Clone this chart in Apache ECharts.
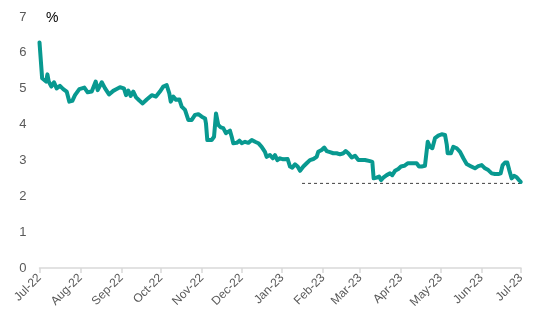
<!DOCTYPE html>
<html>
<head>
<meta charset="utf-8">
<script src="https://cdn.jsdelivr.net/npm/echarts@6/dist/echarts.min.js"></script>
<style>html,body{margin:0;padding:0;background:#fff}#c{width:550px;height:330px}</style>
</head>
<body>
<div id="c"></div>
<script>
// Days since 1 Jul 2022
const dayOffset = [0,2,3,5,6,7,9,11,13,15.5,18,20.6,22.6,24.9,26.9,30.2,34,36.5,39.6,42.6,44.1,47.2,49.7,52.7,55.9,58.5,61,64,65.6,67.3,69.1,71.1,73.2,75.7,78.2,81.3,85.1,88.3,91.3,93.8,96.4,98.4,99.5,101.4,103.5,106,107.8,110.3,112.8,115.4,117.9,120.4,123,125.5,126.2,127.2,130.5,132.3,133.8,135.5,137.4,139.3,141.4,144.4,145.7,146.9,149.5,151.5,153.3,155.8,158.3,160.9,163.4,165.9,168.4,170.9,172.2,174.7,176.8,178.5,180.3,182.3,184.8,186.1,188.1,189.9,191.6,193.7,195.7,197.5,200,202.5,205,207.6,210.1,211.3,213.9,215.9,217.7,220.2,222.7,225.3,227.8,230.3,232.1,234.1,236.7,239.2,241.7,244.2,246.7,250.5,252.3,253.3,255.6,257.4,258.9,260.6,263.2,265.7,267.4,269.5,272,274,276.5,279.1,282.1,285.9,287.7,289.7,292.2,294.3,296,297.8,299.8,302.3,304.9,307.4,308.7,309.4,311.9,313.7,316.3,318.8,321.3,323.8,326.9,330.1,332.6,335.2,337.7,340.2,342.8,345.3,347.8,349.6,351.1,352.9,354.6,356.1,357.9,359.7,361.7,363.5,364.8];
const rateValues = [6.29,5.29,5.24,5.20,5.40,5.20,5.06,5.18,5.01,5.08,4.99,4.92,4.64,4.66,4.82,4.99,5.03,4.90,4.92,5.20,4.96,5.18,5.01,4.84,4.94,4.99,5.04,5.01,4.82,4.95,4.80,4.92,4.76,4.67,4.59,4.70,4.82,4.78,4.92,5.06,5.10,4.87,4.64,4.78,4.69,4.70,4.50,4.41,4.13,4.13,4.27,4.29,4.22,4.17,4.03,3.57,3.57,3.66,4.31,3.99,3.92,3.90,3.76,3.83,3.66,3.48,3.49,3.55,3.48,3.52,3.49,3.57,3.52,3.48,3.38,3.24,3.10,3.15,3.06,3.15,3.01,3.06,3.03,3.06,3.04,2.83,2.80,2.89,2.83,2.71,2.83,2.92,3.01,3.04,3.10,3.24,3.29,3.36,3.26,3.23,3.20,3.20,3.17,3.20,3.26,3.20,3.08,3.13,3.01,3.01,3.01,2.98,2.96,2.50,2.52,2.55,2.45,2.52,2.59,2.64,2.59,2.71,2.76,2.83,2.85,2.92,2.92,2.92,2.83,2.83,2.85,3.52,3.38,3.34,3.62,3.69,3.73,3.71,3.45,3.20,3.20,3.38,3.34,3.24,3.06,2.90,2.84,2.78,2.84,2.87,2.78,2.73,2.64,2.62,2.62,2.64,2.87,2.94,2.94,2.73,2.50,2.57,2.53,2.45,2.40];
const refLineDays = [199, 365];
const refLineValue = 2.36;
const monthTickDays = [0,31,62,92,123,153,184,215,243,274,304,335,365];
const monthLabels = ['Jul-22','Aug-22','Sep-22','Oct-22','Nov-22','Dec-22','Jan-23','Feb-23','Mar-23','Apr-23','May-23','Jun-23','Jul-23'];
const yTicks = [0,1,2,3,4,5,6,7];

const chart = echarts.init(document.getElementById('c'), null, {renderer:'canvas'});
chart.setOption({
  animation:false,
  grid:{left:39.5,right:29,top:17,bottom:62,containLabel:false},
  graphic:[{type:'text',left:46,top:11,style:{text:'%',font:'14px "Liberation Sans"',fill:'#000'}}],
  xAxis:{
    type:'value',min:0,max:365,
    axisLine:{show:true,lineStyle:{color:'#d9d9d9',width:1.5}},
    axisTick:{show:true,customValues:monthTickDays,length:5,lineStyle:{color:'#d9d9d9',width:1.5}},
    axisLabel:{customValues:monthTickDays,rotate:45,margin:8,color:'#595959',fontSize:12,fontFamily:'Liberation Sans',
      formatter:function(v){const i=monthTickDays.indexOf(v);return i>=0?monthLabels[i]:'';}},
    splitLine:{show:false}
  },
  yAxis:{
    type:'value',min:0,max:7,interval:1,
    axisLine:{show:false},axisTick:{show:false},splitLine:{show:false},
    axisLabel:{color:'#595959',fontSize:13,fontFamily:'Liberation Sans',margin:13,
      formatter:function(v){return yTicks.indexOf(v)>=0?String(v):'';}}
  },
  series:[
    {type:'line',data:refLineDays.map(d=>[d,refLineValue]),symbol:'none',
      lineStyle:{color:'#404040',width:1,type:[3,3]},z:1},
    {type:'line',data:dayOffset.map((d,i)=>[d,rateValues[i]]),symbol:'none',
      lineStyle:{color:'#089990',width:4,join:'round',cap:'round'},z:2}
  ]
});
</script>
</body>
</html>
